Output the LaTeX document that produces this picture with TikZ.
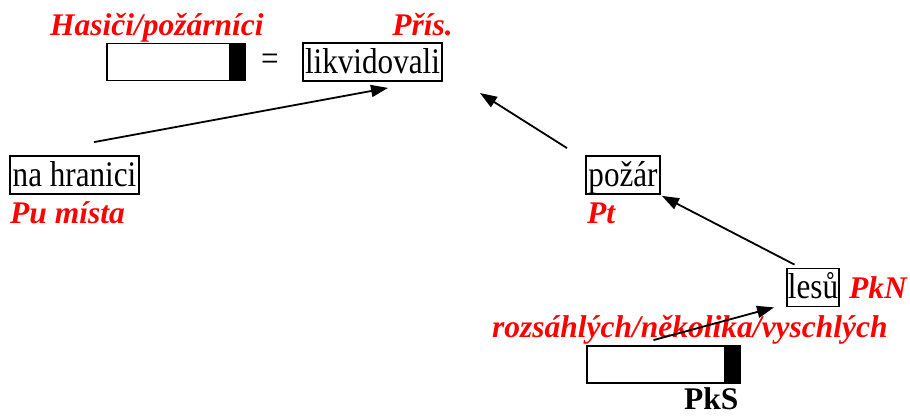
\documentclass[tikz,border=0pt]{standalone}
\usepackage{fontspec}
\setmainfont{Liberation Serif}
\newfontfamily\tnr{Liberation Serif}
\newfontfamily\tnrc[FakeStretch=0.865]{Liberation Serif}
\usetikzlibrary{arrows.meta,calc}
\definecolor{lblred}{RGB}{255,0,0}
\tikzset{
  big/.style={font=\tnrc\fontsize{36}{40}\selectfont},
  wordbox/.style={big,draw,line width=1.8pt,inner xsep=1pt,inner ysep=0pt,text height=30pt,text depth=8pt,minimum height=38pt},
  slotbox/.style={draw,line width=1.8pt,inner sep=0pt,minimum height=37pt,
    path picture={\fill (path picture bounding box.north east) rectangle ([xshift=-16pt]path picture bounding box.south east);}},
  redlbl/.style={text=lblred,font=\tnr\fontsize{31.5}{36}\selectfont\bfseries\itshape,inner sep=0pt},
  plain/.style={big,inner sep=0pt},
  arr/.style={line width=1.8pt,-{Triangle[length=17pt,width=12pt]}}
}
\begin{document}
\begin{tikzpicture}[x=1pt,y=-1pt]
\useasboundingbox (0,0) rectangle (910,416);
% labels
\node[redlbl,anchor=base west] (hasici) at (50,35) {Hasiči/požárníci};
\node[redlbl,anchor=base east] (pris) at (453,35) {Přís.};
% top row
\node[slotbox,minimum width=138pt] (slot1) at (176,62) {};
\node[plain,anchor=base] (eq) at (270,70) {=};
\node[wordbox,minimum width=139pt] (lik) at (372.5,62) {likvidovali};
% middle row
\node[wordbox,minimum width=129pt] (na) at (74.5,175) {na hranici};
\node[redlbl,anchor=base west] (pu) at (10,223) {Pu místa};
\node[wordbox,minimum width=74pt] (pozar) at (623,175) {požár};
\node[redlbl,anchor=base west] (pt) at (587,223) {Pt};
% bottom
\node[wordbox,minimum width=52pt] (lesu) at (813,287.5) {lesů};
\node[redlbl,anchor=base west] (pkn) at (849,298) {PkN};
\node[redlbl,anchor=base west] (rozs) at (492,337) {rozsáhlých/několika/vyschlých};
\node[slotbox,minimum width=153pt] (slot2) at (663.5,364.5) {};
\node[inner sep=0pt,anchor=base west,font=\tnr\fontsize{31.5}{36}\selectfont\bfseries] (pks) at (684,409.5) {PkS};
% connectors
\draw[arr] ([xshift=19.5pt,yshift=13pt]na.north) -- ([xshift=15.5pt,yshift=-6pt]lik.south);
\draw[arr] ([xshift=-56pt,yshift=7pt]pozar.north) -- ([xshift=37pt,yshift=-31pt]lik.east);
\draw[arr] ([xshift=-18.5pt,yshift=3pt]lesu.north) -- ([xshift=1pt,yshift=-1pt]pozar.south east);
\draw[arr] ([xshift=-10pt,yshift=5pt]slot2.north) -- ([xshift=-12pt]lesu.south west);
\end{tikzpicture}
\end{document}
